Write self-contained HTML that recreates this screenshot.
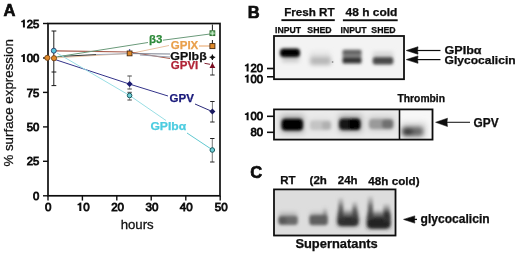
<!DOCTYPE html>
<html><head><meta charset="utf-8">
<style>
html,body{margin:0;padding:0;background:#fff;width:520px;height:255px;overflow:hidden}
svg{display:block}
text{font-family:"Liberation Sans",sans-serif}
.b{font-weight:bold;stroke:currentColor;stroke-width:0.25px}
.n{font-weight:normal;stroke:#111;stroke-width:0.85px}
</style></head><body>
<svg width="520" height="255" viewBox="0 0 520 255">
<defs>
<filter id="bl1" x="-50%" y="-50%" width="200%" height="200%"><feGaussianBlur stdDeviation="1.2"/></filter>
<filter id="bl2" x="-50%" y="-50%" width="200%" height="200%"><feGaussianBlur stdDeviation="2"/></filter>
<filter id="bl3" x="-50%" y="-50%" width="200%" height="200%"><feGaussianBlur stdDeviation="3"/></filter>
<filter id="bb" x="-50%" y="-50%" width="200%" height="200%"><feGaussianBlur stdDeviation="1.6"/></filter>
<path id="one" d="M0.395,0 L0.395,-0.716 L0.265,-0.716 C0.24,-0.64 0.16,-0.60 0.065,-0.595 L0.065,-0.48 L0.22,-0.48 L0.22,0 Z"/>
<clipPath id="g1"><rect x="274" y="36" width="130" height="43.2"/></clipPath>
<clipPath id="g2"><rect x="274" y="109.4" width="158.5" height="30.2"/></clipPath>
<clipPath id="g3"><rect x="274" y="189.4" width="121.5" height="46.1"/></clipPath>
<filter id="soft" x="-10%" y="-10%" width="120%" height="120%"><feGaussianBlur stdDeviation="0.45"/></filter>
</defs>
<g filter="url(#soft)">
<!-- ============ PANEL A ============ -->
<text x="3.5" y="16" class="b" style="stroke-width:0.6px" font-size="16.5" fill="#111">A</text>
<!-- frame -->
<rect x="48" y="23.5" width="172" height="172.3" fill="none" stroke="#111" stroke-width="1.7"/>
<!-- y ticks -->
<g stroke="#111" stroke-width="1.4">
<line x1="43" y1="23.5" x2="48" y2="23.5"/>
<line x1="43" y1="58" x2="48" y2="58"/>
<line x1="43" y1="92.4" x2="48" y2="92.4"/>
<line x1="43" y1="126.9" x2="48" y2="126.9"/>
<line x1="43" y1="161.3" x2="48" y2="161.3"/>
<line x1="43" y1="195.8" x2="48" y2="195.8"/>
<line x1="48" y1="195.8" x2="48" y2="200.6"/>
<line x1="82.4" y1="195.8" x2="82.4" y2="200.6"/>
<line x1="116.8" y1="195.8" x2="116.8" y2="200.6"/>
<line x1="151.2" y1="195.8" x2="151.2" y2="200.6"/>
<line x1="185.8" y1="195.8" x2="185.8" y2="200.6"/>
<line x1="220.2" y1="195.8" x2="220.2" y2="200.6"/>
</g>
<g class="n" font-size="11.3" fill="#111" text-anchor="end">
<text x="39.3" y="27.6">25</text>
<text x="39.3" y="62.1">00</text>
<text x="39.3" y="96.5">75</text>
<text x="39.3" y="131">50</text>
<text x="39.3" y="165.4">25</text>
<text x="39.3" y="199.9">0</text>
</g>
<g class="n" font-size="11.6" fill="#111" text-anchor="middle">
<text x="48.3" y="210.9">0</text>
<text x="86.4" y="210.9">0</text>
<text x="117.6" y="210.9">20</text>
<text x="152" y="210.9">30</text>
<text x="186.2" y="210.9">40</text>
<text x="221.3" y="210.9">50</text>
</g>
<text x="137.2" y="228.5" font-size="13.2" fill="#111" stroke="#111" stroke-width="0.3" text-anchor="middle">hours</text>
<text transform="translate(13.3,166.6) rotate(-90)" font-size="13.4" fill="#111" stroke="#111" stroke-width="0.25" textLength="127.4" lengthAdjust="spacingAndGlyphs">% surface expression</text>

<!-- data lines -->
<g fill="none" stroke-width="1">
<!-- GPIX orange -->
<polyline points="47.5,58 54,58 129.6,53.4" stroke="#ecc8a8"/>
<polyline points="133,53 169,45.5" stroke="#e8c0a0"/>
<polyline points="199,46 212.4,46" stroke="#e8a060"/>
<!-- GPVI dark red -->
<polyline points="56,50.8 129.6,52 170,58.5" stroke="#a85848" stroke-width="1.2"/>
<polyline points="204.5,63.3 210,64.3" stroke="#802030"/>
<!-- GPIb beta black -->
<polyline points="58,56.5 96,54.6" stroke="#333"/>
<polyline points="96,54.6 129.6,53.6" stroke="#a0a8b8"/>
<polyline points="133,53.6 170,54" stroke="#7a8090"/>
<polyline points="140,55 170,57" stroke="#9aa0b0"/>
<!-- beta3 green -->
<polyline points="56,57 148,42.5" stroke="#6a9a7a"/>
<polyline points="163,40.2 212.4,33.7" stroke="#6a9a7a"/>
<!-- GPV navy -->
<polyline points="55,59.5 129.6,84.1 168,96" stroke="#34348a"/>
<polyline points="195,104 212.4,111.6" stroke="#2a2a7a"/>
<!-- GPIb alpha cyan -->
<polyline points="57,53 129.6,95.5 166,120.5" stroke="#98dee4"/>
<polyline points="187,133 212.3,149.8" stroke="#60c8d0"/>
</g>
<!-- error bars -->
<g stroke="#1a1a1a" stroke-width="1" fill="none">
<path d="M53.8,31 V85.6 M51.5,31 H56.3 M51.5,72 H56.3 M51.5,85.6 H56.3"/>
<path d="M129.6,76 V89 M129.6,92.3 V100" stroke="#777" stroke-width="0.7"/>
<path d="M127.4,76 H131.8 M127.4,89 H131.8 M127.4,92.3 H131.8 M127.4,100 H131.8" stroke="#444"/>
<path d="M212.4,24.5 V33.7"/>
<path d="M212.4,40 V46"/>
<path d="M212.4,62 V75" stroke="#555" stroke-width="0.8"/><path d="M210.2,75 H214.6" stroke="#222"/>
<path d="M212.4,101.5 V122 M212.3,138.5 V162" stroke="#555" stroke-width="0.8"/>
<path d="M210.2,101.5 H214.6 M210.2,122 H214.6 M210.1,138.5 H214.5 M210.1,162 H214.5" stroke="#222"/>
</g>
<!-- markers -->
<circle cx="47.3" cy="57.8" r="2.6" fill="#e08a2a" stroke="#6a3a10" stroke-width="0.8"/>
<circle cx="54" cy="58.2" r="2.6" fill="#e08a2a" stroke="#6a3a10" stroke-width="0.8"/>
<circle cx="53.8" cy="50.7" r="2.5" fill="#58c8e0" stroke="#1a2a5a" stroke-width="0.8"/>
<rect x="127.2" y="51" width="4.8" height="4.8" fill="#e08a2a" stroke="#4a2a10" stroke-width="0.9"/>
<circle cx="129.6" cy="50" r="0.8" fill="#1a1a70"/>
<path d="M129.6,81.1 L132.6,84.1 L129.6,87.1 L126.6,84.1 Z" fill="#1a1a70"/>
<circle cx="129.6" cy="95.5" r="2.3" fill="#70d0d8" stroke="#1a5a60" stroke-width="1"/>
<rect x="210" y="30.8" width="4.8" height="4.8" fill="#70b878" stroke="#2a6a2a" stroke-width="0.9"/>
<path d="M212.4,30.8 V35.6 M210,33.2 H214.8" stroke="#e0f8e0" stroke-width="0.7"/>
<rect x="209.9" y="43.6" width="5" height="5" fill="#e08a2a" stroke="#4a2a10" stroke-width="0.9"/>
<path d="M212.4,54.9 L214.8,57.3 L212.4,59.7 L210,57.3 Z" fill="#222"/>
<path d="M212.4,54.5 V60.1 M209.6,57.3 H215.2" stroke="#111" stroke-width="1.1"/>
<path d="M212.4,62.8 L215.3,68 L209.5,68 Z" fill="#7a1020"/>
<path d="M212.4,108.6 L215.4,111.6 L212.4,114.6 L209.4,111.6 Z" fill="#1a1a60"/>
<circle cx="212.3" cy="150" r="2.3" fill="#70d0d8" stroke="#1a5a60" stroke-width="1"/>
<!-- data labels -->
<g class="b" font-size="11.5">
<text x="149" y="43" fill="#2e8a3a" style="color:#2e8a3a">β3</text>
<text x="170.8" y="48.8" fill="#e9a04c" style="color:#e9a04c">GPIX</text>
<text x="170.3" y="60" fill="#111" style="color:#111" textLength="36.4" lengthAdjust="spacingAndGlyphs">GPIbβ</text>
<text x="170.8" y="69.2" fill="#b02436" style="color:#b02436">GPVI</text>
<text x="169.6" y="101.6" fill="#1a1a7a" style="color:#1a1a7a">GPV</text>
<text x="150.4" y="129.9" fill="#4ccce0" style="color:#4ccce0" textLength="35.8" lengthAdjust="spacingAndGlyphs">GPIbα</text>
</g>

<g fill="#111">
<use href="#one" transform="translate(20.45,27.6) scale(11.3)"/>
<use href="#one" transform="translate(20.45,62.1) scale(11.3)"/>
<use href="#one" transform="translate(76.75,210.9) scale(11.6)"/>
<use href="#one" transform="translate(244.15,71.6) scale(11.3)"/>
<use href="#one" transform="translate(244.15,82.7) scale(11.3)"/>
<use href="#one" transform="translate(244.15,120.3) scale(11.3)"/>
</g>
<!-- ============ PANEL B ============ -->
<text x="247.8" y="18" class="b" style="stroke-width:0.6px" font-size="16.5" fill="#111">B</text>
<text x="284.2" y="16.1" class="b" font-size="11.7" fill="#111" textLength="50.4" lengthAdjust="spacingAndGlyphs">Fresh RT</text>
<text x="345.6" y="16.1" class="b" font-size="11.7" fill="#111" textLength="51.8" lengthAdjust="spacingAndGlyphs">48 h cold</text>
<rect x="281.4" y="19.2" width="53.4" height="1.9" fill="#111"/>
<rect x="342.9" y="19.3" width="54.8" height="1.9" fill="#111"/>
<g class="b" font-size="9.9" fill="#111">
<text x="275" y="33.3" textLength="26" lengthAdjust="spacingAndGlyphs">INPUT</text>
<text x="307.3" y="33.3" textLength="24.3" lengthAdjust="spacingAndGlyphs">SHED</text>
<text x="340.5" y="33.3" textLength="26" lengthAdjust="spacingAndGlyphs">INPUT</text>
<text x="371.3" y="33.3" textLength="24.3" lengthAdjust="spacingAndGlyphs">SHED</text>
</g>
<!-- gel 1 -->
<rect x="274" y="36" width="130" height="43.2" fill="#f3f3f3"/>
<g clip-path="url(#g1)"><g filter="url(#bl2)">
<rect x="282" y="54" width="17" height="8" fill="#c8c8c8"/>
<rect x="310" y="51" width="20" height="6" fill="#e6e6e6"/>
<rect x="373" y="52" width="20" height="5" fill="#d0d0d0"/>
</g></g>
<g clip-path="url(#g1)"><g filter="url(#bb)">
<rect x="280" y="48.4" width="20" height="8.6" rx="3.5" fill="#000"/>
<rect x="342.5" y="49.8" width="19" height="5.5" rx="1.5" fill="#606060"/>
<rect x="342.5" y="54.5" width="19" height="3.5" fill="#8a8a8a"/>
<rect x="342.5" y="57.3" width="19" height="6.2" rx="1.5" fill="#363636"/>
<rect x="372.7" y="57" width="20.6" height="7.4" rx="2.5" fill="#484848"/>
</g></g>
<g clip-path="url(#g1)"><g filter="url(#bl2)">
<rect x="310" y="56.5" width="21" height="8.5" rx="2" fill="#b8b8b8"/>
</g></g>
<circle cx="332.6" cy="62" r="0.9" fill="#999"/>
<rect x="274" y="36" width="130" height="43.2" fill="none" stroke="#111" stroke-width="1.8"/>
<g stroke="#111" stroke-width="1.6">
<line x1="267" y1="68.5" x2="274" y2="68.5"/>
<line x1="267" y1="76.8" x2="274" y2="76.8"/>
</g>
<g class="n" font-size="11.3" fill="#111" text-anchor="end">
<text x="263" y="71.6">20</text>
<text x="263" y="82.7">00</text>
</g>
<!-- arrows B -->
<g stroke="#111" stroke-width="1.2"><line x1="414" y1="50.5" x2="440.5" y2="50.5"/><line x1="414" y1="59.6" x2="440.5" y2="59.6"/></g>
<path d="M406.3,50.5 L418,46.8 L417.5,50.5 L418,54.2 Z" fill="#111" stroke="#111" stroke-width="0.6" stroke-linejoin="round"/>
<path d="M406.3,59.6 L418,55.9 L417.5,59.6 L418,63.3 Z" fill="#111" stroke="#111" stroke-width="0.6" stroke-linejoin="round"/>
<g class="b" font-size="11" fill="#111">
<text x="444.6" y="54" textLength="37" lengthAdjust="spacingAndGlyphs">GPIbα</text>
<text x="444.6" y="64.3" font-size="11.3" textLength="71" lengthAdjust="spacingAndGlyphs">Glycocalicin</text>
</g>
<!-- gel 2 -->
<text x="397.5" y="102.3" class="b" font-size="10.3" fill="#111">Thrombin</text>
<rect x="274" y="109.4" width="158.5" height="30.2" fill="#ebebeb"/>
<rect x="399.5" y="109.4" width="33" height="30.2" fill="#f7f7f7"/>
<g clip-path="url(#g2)"><g filter="url(#bl3)">
<rect x="281" y="115" width="23" height="18" fill="#aaa"/>
<rect x="309" y="118" width="23" height="14" fill="#e0e0e0"/>
<rect x="339" y="115" width="23" height="17" fill="#aaa"/>
<rect x="369" y="116" width="25" height="15" fill="#ccc"/>
<rect x="401" y="123" width="25" height="15" fill="#cdcdcd"/>
</g></g>
<g clip-path="url(#g2)"><g filter="url(#bl2)">
<rect x="402" y="127" width="21" height="9" rx="4" fill="#6a6a6a"/>
<ellipse cx="408" cy="131.8" rx="5.5" ry="3.5" fill="#3a3a3a"/>
</g></g>
<g clip-path="url(#g2)"><g filter="url(#bb)">
<rect x="281.5" y="118.8" width="21.5" height="11.8" rx="4" fill="#000"/>
<rect x="310" y="120.5" width="21" height="9.5" rx="3" fill="#c4c4c4"/>
<rect x="322" y="121.5" width="9" height="8" rx="3" fill="#b0b0b0"/>
<rect x="339" y="118.6" width="21.5" height="11.5" rx="4" fill="#141414"/>
<rect x="349" y="119" width="11" height="10.5" rx="3" fill="#000"/>
<rect x="369" y="119" width="24.5" height="10" rx="3.5" fill="#9a9a9a"/>
<rect x="382" y="119.5" width="11" height="9" rx="3" fill="#707070"/>
</g></g>
<rect x="274" y="109.4" width="158.5" height="30.2" fill="none" stroke="#111" stroke-width="1.8"/>
<line x1="399.5" y1="109.4" x2="399.5" y2="139.6" stroke="#111" stroke-width="1.6"/>
<g stroke="#111" stroke-width="1.6">
<line x1="267" y1="116.3" x2="274" y2="116.3"/>
<line x1="267" y1="132.3" x2="274" y2="132.3"/>
</g>
<g class="n" font-size="11.3" fill="#111" text-anchor="end">
<text x="263" y="120.3">00</text>
<text x="263" y="135.7">80</text>
</g>
<line x1="445" y1="122.3" x2="470" y2="122.3" stroke="#222" stroke-width="1.1"/>
<path d="M435.6,122.3 L447.5,118.2 L447,122.3 L447.5,126.5 Z" fill="#111" stroke="#111" stroke-width="0.5" stroke-linejoin="round"/>
<text x="473.6" y="126.8" class="b" font-size="13" fill="#111" textLength="25" lengthAdjust="spacingAndGlyphs">GPV</text>

<!-- ============ PANEL C ============ -->
<text x="250.3" y="177.6" class="b" style="stroke-width:0.6px" font-size="16.5" fill="#111">C</text>
<g class="b" font-size="11.5" fill="#111">
<text x="280.2" y="184.4">RT</text>
<text x="309.6" y="184.4">(2h</text>
<text x="337.8" y="184.4">24h</text>
<text x="368.3" y="184.5" textLength="51.3" lengthAdjust="spacingAndGlyphs">48h cold)</text>
</g>
<rect x="274" y="189.4" width="121.5" height="46.1" fill="#dddddd"/>
<defs>
<linearGradient id="arm" x1="0" y1="1" x2="0" y2="0"><stop offset="0" stop-color="#3a3a3a"/><stop offset="0.55" stop-color="#555" stop-opacity="0.85"/><stop offset="1" stop-color="#888" stop-opacity="0.15"/></linearGradient>
<linearGradient id="arm2" x1="0" y1="1" x2="0" y2="0"><stop offset="0" stop-color="#555"/><stop offset="0.5" stop-color="#666" stop-opacity="0.6"/><stop offset="1" stop-color="#777" stop-opacity="0.05"/></linearGradient>
</defs>
<g clip-path="url(#g3)"><g filter="url(#bl2)">
<rect x="279" y="212" width="18" height="6" fill="#bbb"/>
<rect x="310" y="212" width="17" height="6" fill="#bbb"/>
<rect x="338" y="211" width="20" height="8" fill="#888"/>
<rect x="368" y="212" width="22" height="8" fill="#777"/>
<rect x="337.5" y="215" width="21" height="11" rx="3" fill="#333"/>
<rect x="367" y="216" width="23" height="12.5" rx="3" fill="#2a2a2a"/>
</g></g>
<g clip-path="url(#g3)"><g filter="url(#bb)">
<rect x="338.3" y="197.5" width="5" height="21" fill="url(#arm)"/>
<rect x="352.3" y="201.5" width="5" height="17" fill="url(#arm)"/>
<rect x="367.8" y="196" width="5.2" height="23" fill="url(#arm)"/>
<rect x="383.3" y="203.5" width="6.5" height="16" fill="url(#arm)"/>
<rect x="323" y="207" width="4" height="11" fill="url(#arm2)" opacity="0.7"/>
<rect x="278.5" y="215.8" width="19.3" height="9.3" rx="3" fill="#6a6a6a"/>
<rect x="278.5" y="217" width="8" height="7" rx="3" fill="#5a5a5a"/>
<rect x="309.3" y="215" width="18.5" height="10.2" rx="3" fill="#5e5e5e"/>
<rect x="338.3" y="218.5" width="19" height="6.5" rx="3" fill="#2e2e2e"/>
<rect x="368" y="219.5" width="21.5" height="8" rx="3" fill="#222"/>
<rect x="384" y="212" width="5.5" height="10" rx="2" fill="#333"/>
</g></g>

<rect x="274" y="189.4" width="121.5" height="46.1" fill="none" stroke="#111" stroke-width="1.8"/>
<path d="M403.6,219.4 L414.8,215.9 L414.5,219.4 L414.8,223.1 Z" fill="#111" stroke="#111" stroke-width="0.6" stroke-linejoin="round"/><line x1="414" y1="219.4" x2="417" y2="219.4" stroke="#111" stroke-width="1.3"/>
<text x="420.6" y="222.9" class="b" font-size="12" fill="#111" textLength="69" lengthAdjust="spacingAndGlyphs">glycocalicin</text>
<text x="295.4" y="248" class="b" font-size="12.2" fill="#111" textLength="82.4" lengthAdjust="spacingAndGlyphs">Supernatants</text>
</g>
</svg>
</body></html>
